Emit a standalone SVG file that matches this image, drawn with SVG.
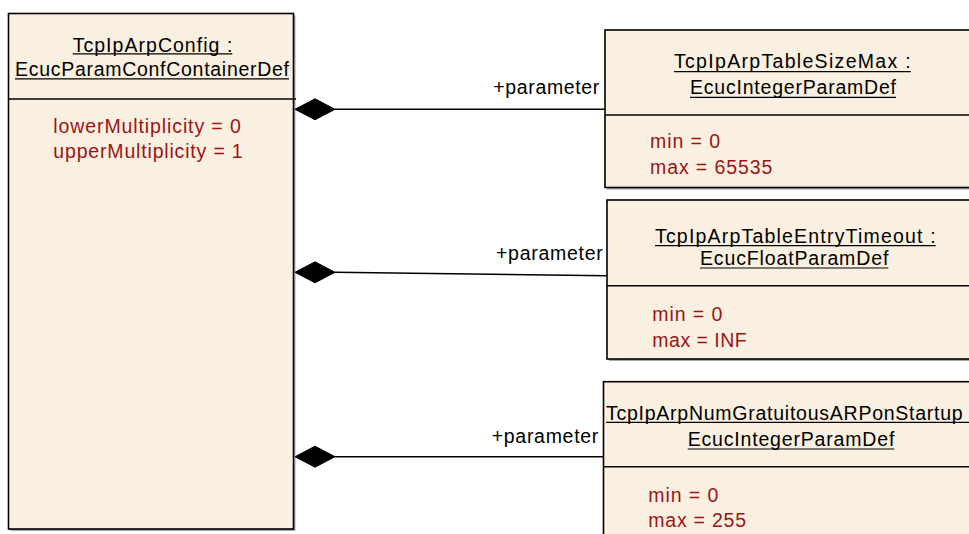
<svg xmlns="http://www.w3.org/2000/svg" width="969" height="534" viewBox="0 0 969 534">
  <defs>
    <style>
      .box { fill: #FAF0E1; stroke: #000; stroke-width: 1.6; }
      .shadow { fill: #A8A8A8; }
      .sep { stroke: #000; stroke-width: 1.6; fill: none; }
      .ul { stroke: #000; stroke-width: 1.2; fill: none; }
      .title { font-family: "Liberation Sans", Arial, sans-serif; font-size: 19.5px; fill: #000; }
      .attr { font-family: "Liberation Sans", Arial, sans-serif; font-size: 19.5px; fill: #9C1414; }
      .role { font-family: "Liberation Sans", Arial, sans-serif; font-size: 19.5px; fill: #000; }
      .conn { stroke: #000; stroke-width: 1.6; fill: none; }
      .diamond { fill: #000; stroke: #000; stroke-width: 1; }
    </style>
  </defs>
  <rect width="969" height="534" fill="#FFFFFF"/>

  <!-- Container: TcpIpArpConfig -->
  <g id="TcpIpArpConfig">
    <rect class="shadow" x="10.5" y="15.5" width="285" height="515.5"/>
    <rect class="box" x="8.5" y="13.5" width="285" height="515.5"/>
    <line class="sep" x1="8.5" y1="99" x2="296" y2="99"/>
    <text class="title" x="72.7" y="51.5" textLength="159.6" lengthAdjust="spacing">TcpIpArpConfig :</text>
    <line class="ul" x1="72.7" y1="53.8" x2="232.3" y2="53.8"/>
    <text class="title" x="15" y="76" textLength="274" lengthAdjust="spacing">EcucParamConfContainerDef</text>
    <line class="ul" x1="15" y1="78.8" x2="289" y2="78.8"/>
    <text class="attr" x="53.3" y="133.3" textLength="187.5" lengthAdjust="spacing">lowerMultiplicity = 0</text>
    <text class="attr" x="53.3" y="158.3" textLength="189.4" lengthAdjust="spacing">upperMultiplicity = 1</text>
  </g>

  <!-- Parameter: TcpIpArpTableSizeMax -->
  <g id="TcpIpArpTableSizeMax">
    <rect class="shadow" x="607" y="32" width="380" height="157.5"/>
    <rect class="box" x="605" y="30" width="380" height="157.5"/>
    <line class="sep" x1="605" y1="115" x2="985" y2="115"/>
    <text class="title" x="674" y="68.3" textLength="236.7" lengthAdjust="spacing">TcpIpArpTableSizeMax :</text>
    <line class="ul" x1="674" y1="71.6" x2="910.7" y2="71.6"/>
    <text class="title" x="690" y="94" textLength="206" lengthAdjust="spacing">EcucIntegerParamDef</text>
    <line class="ul" x1="690" y1="97.3" x2="896" y2="97.3"/>
    <text class="attr" x="650" y="148.3" textLength="70" lengthAdjust="spacing">min = 0</text>
    <text class="attr" x="650" y="174" textLength="122.3" lengthAdjust="spacing">max = 65535</text>
  </g>

  <!-- Parameter: TcpIpArpTableEntryTimeout -->
  <g id="TcpIpArpTableEntryTimeout">
    <rect class="shadow" x="609" y="202" width="380" height="159"/>
    <rect class="box" x="607" y="200" width="380" height="159"/>
    <line class="sep" x1="607" y1="285.7" x2="987" y2="285.7"/>
    <text class="title" x="655" y="243" textLength="280.7" lengthAdjust="spacing">TcpIpArpTableEntryTimeout :</text>
    <line class="ul" x1="655" y1="245.6" x2="935.7" y2="245.6"/>
    <text class="title" x="700" y="265" textLength="188.3" lengthAdjust="spacing">EcucFloatParamDef</text>
    <line class="ul" x1="700" y1="268" x2="888.3" y2="268"/>
    <text class="attr" x="652.3" y="321" textLength="70" lengthAdjust="spacing">min = 0</text>
    <text class="attr" x="652.3" y="346.7" textLength="94.4" lengthAdjust="spacing">max = INF</text>
  </g>

  <!-- Parameter: TcpIpArpNumGratuitousARPonStartup -->
  <g id="TcpIpArpNumGratuitousARPonStartup">
    <rect class="shadow" x="605.5" y="383.7" width="380" height="200"/>
    <rect class="box" x="603.5" y="381.7" width="380" height="200"/>
    <line class="sep" x1="603.5" y1="466.7" x2="983.5" y2="466.7"/>
    <text class="title" x="606" y="420" textLength="356.7" lengthAdjust="spacing">TcpIpArpNumGratuitousARPonStartup</text>
    <line class="ul" x1="606" y1="422.3" x2="969" y2="422.3"/>
    <text class="title" x="687.7" y="446" textLength="206.6" lengthAdjust="spacing">EcucIntegerParamDef</text>
    <line class="ul" x1="687.7" y1="449" x2="894.3" y2="449"/>
    <text class="attr" x="648.3" y="501.7" textLength="70" lengthAdjust="spacing">min = 0</text>
    <text class="attr" x="648.3" y="526.7" textLength="97.7" lengthAdjust="spacing">max = 255</text>
  </g>

  <!-- Composition connectors with role labels -->
  <g id="connectors">
    <line class="conn" x1="335" y1="109.3" x2="605" y2="109.3"/>
    <polygon class="diamond" points="295,109.3 315,98.8 335,109.3 315,119.8"/>
    <text class="role" x="493.3" y="94" textLength="106" lengthAdjust="spacing">+parameter</text>

    <line class="conn" x1="335" y1="272.3" x2="607" y2="275.7"/>
    <polygon class="diamond" points="295,272.3 315,261.8 335,272.3 315,282.8"/>
    <text class="role" x="496" y="259.5" textLength="106.7" lengthAdjust="spacing">+parameter</text>

    <line class="conn" x1="335" y1="456.7" x2="603.5" y2="456.7"/>
    <polygon class="diamond" points="295,456.7 315,446.2 335,456.7 315,467.2"/>
    <text class="role" x="491.7" y="442.7" textLength="106.6" lengthAdjust="spacing">+parameter</text>
  </g>
</svg>
